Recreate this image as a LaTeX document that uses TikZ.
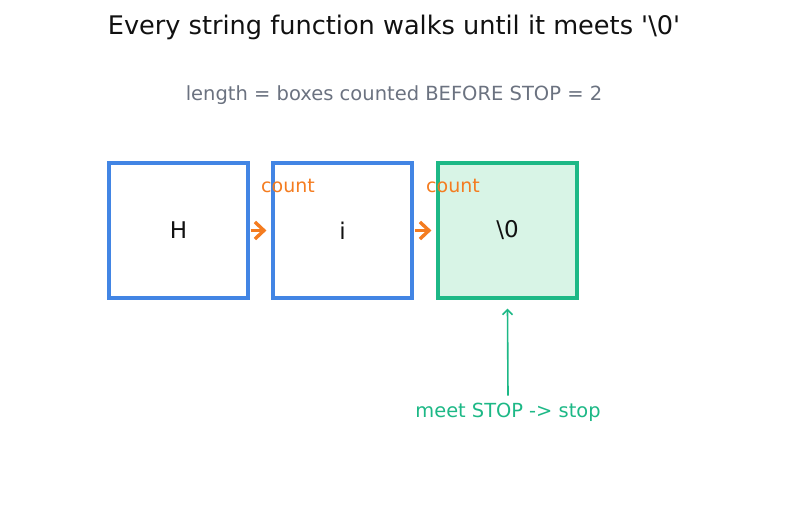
\documentclass[tikz,border=0pt]{standalone}
\usepackage{fontspec}
\setmainfont{DejaVu Sans}
\usetikzlibrary{arrows.meta}
\definecolor{cblue}{HTML}{4285E4}
\definecolor{cgreen}{HTML}{1DB886}
\definecolor{cgreenfill}{HTML}{D8F4E6}
\definecolor{corange}{HTML}{F47C20}
\definecolor{cgray}{HTML}{6B7280}
\definecolor{ctitle}{HTML}{111111}
\tikzset{
  cell/.style={draw=cblue, line width=3.2pt, minimum width=139pt, minimum height=135pt, inner sep=0pt, font=\fontsize{23}{26}\selectfont, text=ctitle},
  stopcell/.style={cell, draw=cgreen, fill=cgreenfill},
  cntlbl/.style={text=corange, font=\fontsize{19}{22}\selectfont, inner sep=0pt},
  walk/.style={draw=corange, line width=3.4pt, -{Straight Barb[length=9pt,width=17pt,line width=3.4pt]}},
}
\begin{document}
\begin{tikzpicture}[x=1pt,y=-1pt]
\useasboundingbox (0,0) rectangle (787,512);
\node[text=ctitle, font=\fontsize{25.6}{30}\selectfont, inner sep=0pt] (title) at (394,27.5) {Every string function walks until it meets \textquotesingle\textbackslash 0\textquotesingle};
\node[text=cgray, font=\fontsize{19.5}{23}\selectfont, inner sep=0pt] (sub) at (394,95.5) {length = boxes counted BEFORE STOP = 2};
\node[cell] (h) at (178.5,230.5) {H};
\node[cell] (i) at (342.5,230.5) {i};
\node[stopcell] (z) at (507.5,230.5) {\textbackslash 0};
\draw[walk] ([xshift=1pt]h.east) -- ([xshift=-5pt]i.west);
\draw[walk] ([xshift=1pt]i.east) -- ([xshift=-5pt]z.west);
\node[cntlbl] (c1) at (288,186) {count};
\node[cntlbl] (c2) at (453,186) {count};
\node[text=cgreen, font=\fontsize{19.4}{23}\selectfont, inner sep=0pt] (meet) at (508,412) {meet STOP -> stop};
\draw[cgreen, line width=1.6pt, -{Straight Barb[length=5pt,width=10pt,line width=1.6pt]}] ([yshift=7pt]meet.north) -- ([yshift=-9pt]z.south);
\end{tikzpicture}
\end{document}
